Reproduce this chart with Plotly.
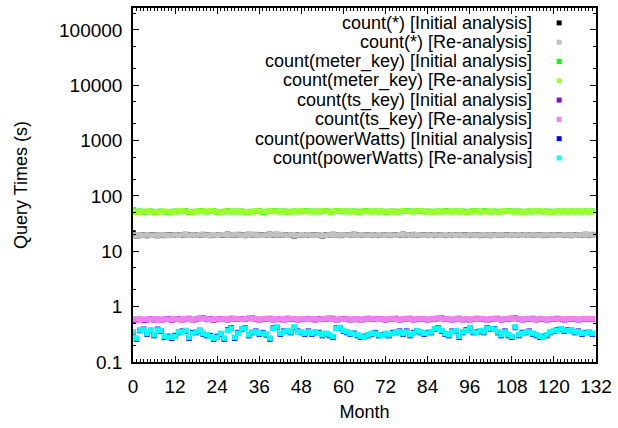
import plotly.graph_objects as go

months = list(range(132))

count_star_init = [21.5, 19.2, 19.4, 19.7, 19.3, 19.6, 19.8, 19.3, 19.6, 19.4, 19.5, 19.8,
 19.5, 19.7, 19.6, 20.1, 19.6, 19.5, 19.8, 19.8, 20.0, 19.7, 19.4, 19.7,
 19.6, 19.6, 19.9, 20.2, 19.5, 19.8, 20.0, 19.7, 19.4, 20.1, 19.9, 20.0,
 19.8, 19.6, 19.5, 20.2, 19.6, 20.1, 19.9, 19.9, 19.7, 19.6, 19.1, 19.8,
 19.7, 19.9, 19.6, 19.8, 19.7, 19.5, 19.1, 19.8, 19.6, 20.1, 19.9, 19.4,
 19.6, 19.7, 19.5, 20.1, 19.8, 19.6, 19.9, 19.7, 19.6, 19.8, 19.7, 19.9,
 19.8, 19.6, 19.9, 19.7, 19.7, 20.2, 19.6, 19.8, 20.0, 19.7, 19.9, 19.7,
 19.5, 19.6, 19.6, 19.8, 19.9, 19.7, 19.8, 19.6, 19.7, 19.5, 19.8, 19.6,
 19.6, 19.9, 19.7, 19.4, 19.6, 19.9, 19.4, 19.7, 19.5, 19.6, 19.8, 19.7,
 19.5, 19.8, 19.6, 19.7, 19.5, 19.8, 19.6, 19.9, 19.7, 19.4, 19.6, 19.8,
 19.5, 19.7, 19.8, 19.6, 19.9, 19.4, 19.6, 19.5, 19.6, 20.1, 19.9, 20.0]

count_star_re = [19.8, 19.4, 19.6, 19.5, 19.7, 19.4, 19.6, 19.5, 19.8, 19.6, 19.3, 19.6,
 19.7, 19.5, 19.8, 19.9, 19.4, 19.7, 19.6, 20.0, 19.8, 19.5, 19.6, 19.9,
 19.4, 19.8, 20.1, 19.9, 19.7, 20.0, 19.8, 19.5, 19.6, 19.9, 20.1, 19.8,
 19.6, 19.4, 19.7, 20.0, 19.8, 19.9, 20.1, 19.7, 19.5, 19.8, 19.3, 19.6,
 19.9, 19.7, 19.8, 19.6, 19.5, 19.7, 19.3, 19.6, 19.8, 19.9, 19.7, 19.6,
 19.8, 19.5, 19.7, 19.9, 19.6, 19.8, 19.7, 19.5, 19.8, 19.6, 19.9, 19.7,
 19.6, 19.8, 19.7, 19.5, 19.9, 20.0, 19.8, 19.6, 19.8, 19.9, 19.7, 19.5,
 19.7, 19.4, 19.8, 19.6, 19.7, 19.9, 19.6, 19.8, 19.5, 19.7, 19.6, 19.4,
 19.8, 19.7, 19.5, 19.6, 19.8, 19.7, 19.6, 19.5, 19.7, 19.8, 19.6, 19.5,
 19.7, 19.6, 19.8, 19.5, 19.7, 19.6, 19.8, 19.7, 19.5, 19.6, 19.8, 19.6,
 19.7, 19.5, 19.6, 19.8, 19.7, 19.6, 19.4, 19.7, 19.8, 19.9, 20.1, 19.8]

meter_key_init = [56, 52, 53, 51, 52, 53, 51, 52, 53, 52, 51, 52,
 53, 52, 53, 54, 51, 52, 52, 54, 53, 52, 53, 54,
 51, 52, 52, 54, 52, 53, 52, 53, 51, 52, 52, 53,
 54, 51, 52, 53, 54, 53, 52, 53, 52, 52, 53, 52,
 53, 54, 53, 52, 53, 52, 53, 54, 52, 52, 54, 53,
 52, 53, 52, 53, 52, 52, 54, 53, 52, 53, 52, 53,
 51, 52, 53, 52, 52, 53, 54, 53, 52, 54, 53, 52,
 53, 52, 52, 53, 52, 54, 53, 52, 53, 52, 53, 52,
 52, 54, 53, 52, 54, 53, 52, 53, 52, 52, 53, 54,
 53, 52, 53, 52, 52, 53, 52, 53, 53, 52, 53, 52,
 52, 53, 52, 53, 52, 53, 52, 53, 52, 53, 52, 53]

meter_key_re = [53, 51, 52, 52, 53, 52, 52, 51, 52, 53, 52, 51,
 52, 53, 54, 53, 52, 51, 53, 53, 52, 53, 54, 53,
 52, 51, 53, 53, 53, 52, 53, 52, 52, 51, 53, 54,
 53, 52, 53, 54, 53, 52, 53, 52, 51, 53, 52, 53,
 54, 53, 52, 53, 52, 53, 54, 53, 51, 53, 53, 54,
 53, 52, 53, 52, 51, 53, 53, 52, 53, 52, 53, 52,
 52, 53, 52, 51, 53, 54, 53, 52, 53, 53, 54, 53,
 52, 51, 53, 52, 53, 53, 52, 53, 52, 53, 52, 51,
 53, 53, 52, 53, 53, 52, 53, 52, 51, 53, 54, 53,
 52, 53, 52, 51, 53, 52, 53, 54, 52, 53, 52, 51,
 53, 52, 53, 52, 53, 52, 53, 52, 53, 52, 53, 52]

ts_key_init = [0.57, 0.58, 0.59, 0.57, 0.58, 0.60, 0.58, 0.59, 0.58, 0.59, 0.60, 0.57,
 0.59, 0.60, 0.58, 0.60, 0.61, 0.58, 0.59, 0.61, 0.62, 0.59, 0.60, 0.57,
 0.59, 0.60, 0.59, 0.58, 0.61, 0.60, 0.59, 0.60, 0.59, 0.61, 0.62, 0.59,
 0.58, 0.59, 0.60, 0.61, 0.58, 0.59, 0.59, 0.58, 0.61, 0.60, 0.59, 0.58,
 0.59, 0.60, 0.60, 0.59, 0.58, 0.60, 0.59, 0.60, 0.61, 0.61, 0.58, 0.59,
 0.60, 0.59, 0.58, 0.59, 0.59, 0.58, 0.59, 0.61, 0.60, 0.59, 0.60, 0.59,
 0.58, 0.59, 0.60, 0.61, 0.58, 0.59, 0.60, 0.61, 0.58, 0.59, 0.60, 0.59,
 0.58, 0.59, 0.60, 0.61, 0.62, 0.59, 0.59, 0.58, 0.60, 0.61, 0.58, 0.59,
 0.58, 0.59, 0.61, 0.60, 0.59, 0.58, 0.59, 0.60, 0.61, 0.58, 0.59, 0.60,
 0.61, 0.62, 0.59, 0.58, 0.59, 0.60, 0.61, 0.58, 0.60, 0.59, 0.58, 0.59,
 0.60, 0.61, 0.59, 0.58, 0.59, 0.60, 0.59, 0.58, 0.59, 0.60, 0.59, 0.60]

ts_key_re = [0.59, 0.60, 0.58, 0.59, 0.60, 0.59, 0.60, 0.58, 0.59, 0.60, 0.59, 0.58,
 0.60, 0.59, 0.59, 0.61, 0.60, 0.59, 0.60, 0.62, 0.61, 0.60, 0.59, 0.58,
 0.60, 0.59, 0.60, 0.59, 0.60, 0.61, 0.60, 0.59, 0.60, 0.62, 0.61, 0.60,
 0.59, 0.60, 0.61, 0.60, 0.59, 0.58, 0.60, 0.59, 0.60, 0.61, 0.60, 0.59,
 0.60, 0.61, 0.59, 0.60, 0.60, 0.59, 0.60, 0.61, 0.62, 0.60, 0.59, 0.60,
 0.59, 0.60, 0.59, 0.58, 0.60, 0.59, 0.60, 0.60, 0.61, 0.60, 0.59, 0.60,
 0.59, 0.60, 0.61, 0.60, 0.59, 0.60, 0.61, 0.60, 0.59, 0.60, 0.61, 0.60,
 0.59, 0.60, 0.61, 0.62, 0.61, 0.60, 0.60, 0.59, 0.61, 0.60, 0.59, 0.60,
 0.59, 0.60, 0.60, 0.61, 0.60, 0.59, 0.60, 0.61, 0.60, 0.59, 0.60, 0.61,
 0.62, 0.61, 0.60, 0.59, 0.60, 0.61, 0.60, 0.59, 0.61, 0.60, 0.59, 0.60,
 0.61, 0.60, 0.60, 0.59, 0.60, 0.61, 0.60, 0.59, 0.60, 0.61, 0.60, 0.61]

power_init = [0.34, 0.26, 0.37, 0.39, 0.32, 0.37, 0.30, 0.39, 0.36, 0.28, 0.29, 0.27,
 0.30, 0.34, 0.36, 0.36, 0.27, 0.34, 0.34, 0.37, 0.32, 0.30, 0.30, 0.26,
 0.29, 0.32, 0.26, 0.38, 0.41, 0.27, 0.34, 0.39, 0.41, 0.30, 0.34, 0.36,
 0.32, 0.34, 0.31, 0.26, 0.41, 0.42, 0.32, 0.36, 0.36, 0.34, 0.42, 0.36,
 0.34, 0.32, 0.36, 0.32, 0.34, 0.34, 0.30, 0.32, 0.30, 0.28, 0.41, 0.41,
 0.36, 0.34, 0.32, 0.33, 0.30, 0.28, 0.29, 0.30, 0.32, 0.34, 0.30, 0.31,
 0.32, 0.30, 0.34, 0.34, 0.36, 0.32, 0.36, 0.30, 0.34, 0.36, 0.34, 0.32,
 0.34, 0.34, 0.39, 0.41, 0.36, 0.32, 0.30, 0.36, 0.36, 0.28, 0.34, 0.38,
 0.41, 0.34, 0.35, 0.36, 0.34, 0.41, 0.39, 0.40, 0.34, 0.30, 0.36, 0.30,
 0.28, 0.42, 0.30, 0.34, 0.34, 0.36, 0.32, 0.30, 0.28, 0.29, 0.30, 0.34,
 0.36, 0.38, 0.39, 0.36, 0.38, 0.37, 0.34, 0.36, 0.32, 0.34, 0.34, 0.32]

power_re = [0.35, 0.27, 0.38, 0.38, 0.33, 0.38, 0.31, 0.38, 0.37, 0.29, 0.28, 0.28,
 0.29, 0.35, 0.35, 0.37, 0.28, 0.33, 0.35, 0.38, 0.33, 0.31, 0.29, 0.27,
 0.28, 0.33, 0.27, 0.37, 0.40, 0.28, 0.33, 0.40, 0.40, 0.31, 0.35, 0.35,
 0.33, 0.33, 0.32, 0.27, 0.40, 0.43, 0.33, 0.35, 0.37, 0.35, 0.43, 0.35,
 0.35, 0.33, 0.35, 0.33, 0.35, 0.33, 0.31, 0.33, 0.31, 0.29, 0.40, 0.42,
 0.37, 0.35, 0.33, 0.32, 0.31, 0.29, 0.28, 0.31, 0.33, 0.33, 0.31, 0.30,
 0.33, 0.31, 0.33, 0.35, 0.35, 0.33, 0.35, 0.31, 0.33, 0.37, 0.35, 0.33,
 0.33, 0.35, 0.40, 0.40, 0.37, 0.33, 0.31, 0.35, 0.37, 0.29, 0.35, 0.37,
 0.42, 0.35, 0.34, 0.37, 0.35, 0.40, 0.40, 0.39, 0.35, 0.31, 0.35, 0.31,
 0.29, 0.43, 0.31, 0.33, 0.35, 0.35, 0.33, 0.31, 0.29, 0.28, 0.31, 0.35,
 0.37, 0.37, 0.40, 0.37, 0.37, 0.38, 0.35, 0.35, 0.33, 0.33, 0.35, 0.33]

series_names = [
    "count(*) [Initial analysis]",
    "count(*) [Re-analysis]",
    "count(meter_key) [Initial analysis]",
    "count(meter_key) [Re-analysis]",
    "count(ts_key) [Initial analysis]",
    "count(ts_key) [Re-analysis]",
    "count(powerWatts) [Initial analysis]",
    "count(powerWatts) [Re-analysis]",
]
series_values = [count_star_init, count_star_re, meter_key_init, meter_key_re,
                 ts_key_init, ts_key_re, power_init, power_re]
series_colors = ["#000000", "#c0c0c0", "#00ff00", "#9aff2a",
                 "#9400d3", "#ee82ee", "#0000ff", "#00ffff"]

y_tick_vals = [0.1, 1, 10, 100, 1000, 10000, 100000]
y_tick_text = ["0.1", "1", "10", "100", "1000", "10000", "100000"]
y_minor_vals = [m * 10.0 ** e for e in range(-1, 6) for m in (2, 5)]

FONT = "Liberation Sans, Arial, Helvetica, sans-serif"

fig = go.Figure()
for name, vals, col in zip(series_names, series_values, series_colors):
    fig.add_trace(go.Scatter(
        x=months, y=vals, mode="markers", name=name, showlegend=False,
        marker=dict(symbol="square", size=5.5, color=col, line=dict(width=0)),
    ))

# gnuplot-style key: right-aligned text with marker on the right
plot_left, plot_right, plot_top, plot_bottom = 133, 598, 6, 362
pw = plot_right - plot_left
ph = plot_bottom - plot_top
for i, (name, col) in enumerate(zip(series_names, series_colors)):
    ypix = 21 + i * 19.4
    yp = (plot_bottom - ypix) / ph
    fig.add_annotation(xref="paper", yref="paper", x=(535 - plot_left) / pw, y=yp,
                       text=name, showarrow=False, xanchor="right", yanchor="middle",
                       borderpad=0,
                       font=dict(family=FONT, size=18, color="#000000"))
    xc = (561 - plot_left) / pw
    fig.add_shape(type="rect", xref="paper", yref="paper",
                  x0=xc - 2.5 / pw, x1=xc + 2.5 / pw, y0=yp - 2.5 / ph, y1=yp + 2.5 / ph,
                  fillcolor=col, line=dict(width=0))

fig.update_layout(
    width=618, height=428,
    margin=dict(l=plot_left, r=618 - plot_right, t=plot_top, b=428 - plot_bottom),
    paper_bgcolor="white", plot_bgcolor="white",
    font=dict(family=FONT, size=19, color="#000000"),
    showlegend=False,
)
fig.update_xaxes(
    range=[0, 132], tickmode="linear", tick0=0, dtick=12,
    ticks="inside", ticklen=6, tickwidth=1, tickcolor="#000",
    minor=dict(ticks="inside", dtick=1, ticklen=3, tickwidth=1, tickcolor="#000", showgrid=False),
    showline=True, linecolor="#000", linewidth=1.5, mirror="allticks",
    showgrid=False, zeroline=False,
    title=dict(text="Month", standoff=10, font=dict(family=FONT, size=18)),
    ticklabelstandoff=6,
)
fig.update_yaxes(
    type="log", range=[-1, 5.396],
    tickmode="array", tickvals=y_tick_vals, ticktext=y_tick_text,
    ticks="inside", ticklen=6, tickwidth=1, tickcolor="#000",
    minor=dict(ticks="inside", tickmode="array", tickvals=y_minor_vals, ticklen=3,
               tickwidth=1, tickcolor="#000", showgrid=False),
    showline=True, linecolor="#000", linewidth=1.5, mirror="allticks",
    showgrid=False, zeroline=False,
    title=dict(text="Query Times (s)", standoff=27, font=dict(family=FONT, size=18)),
    ticklabelstandoff=5,
)

fig.write_html("out.html", config={"displayModeBar": False},
               post_script="document.body.style.margin='0';")
